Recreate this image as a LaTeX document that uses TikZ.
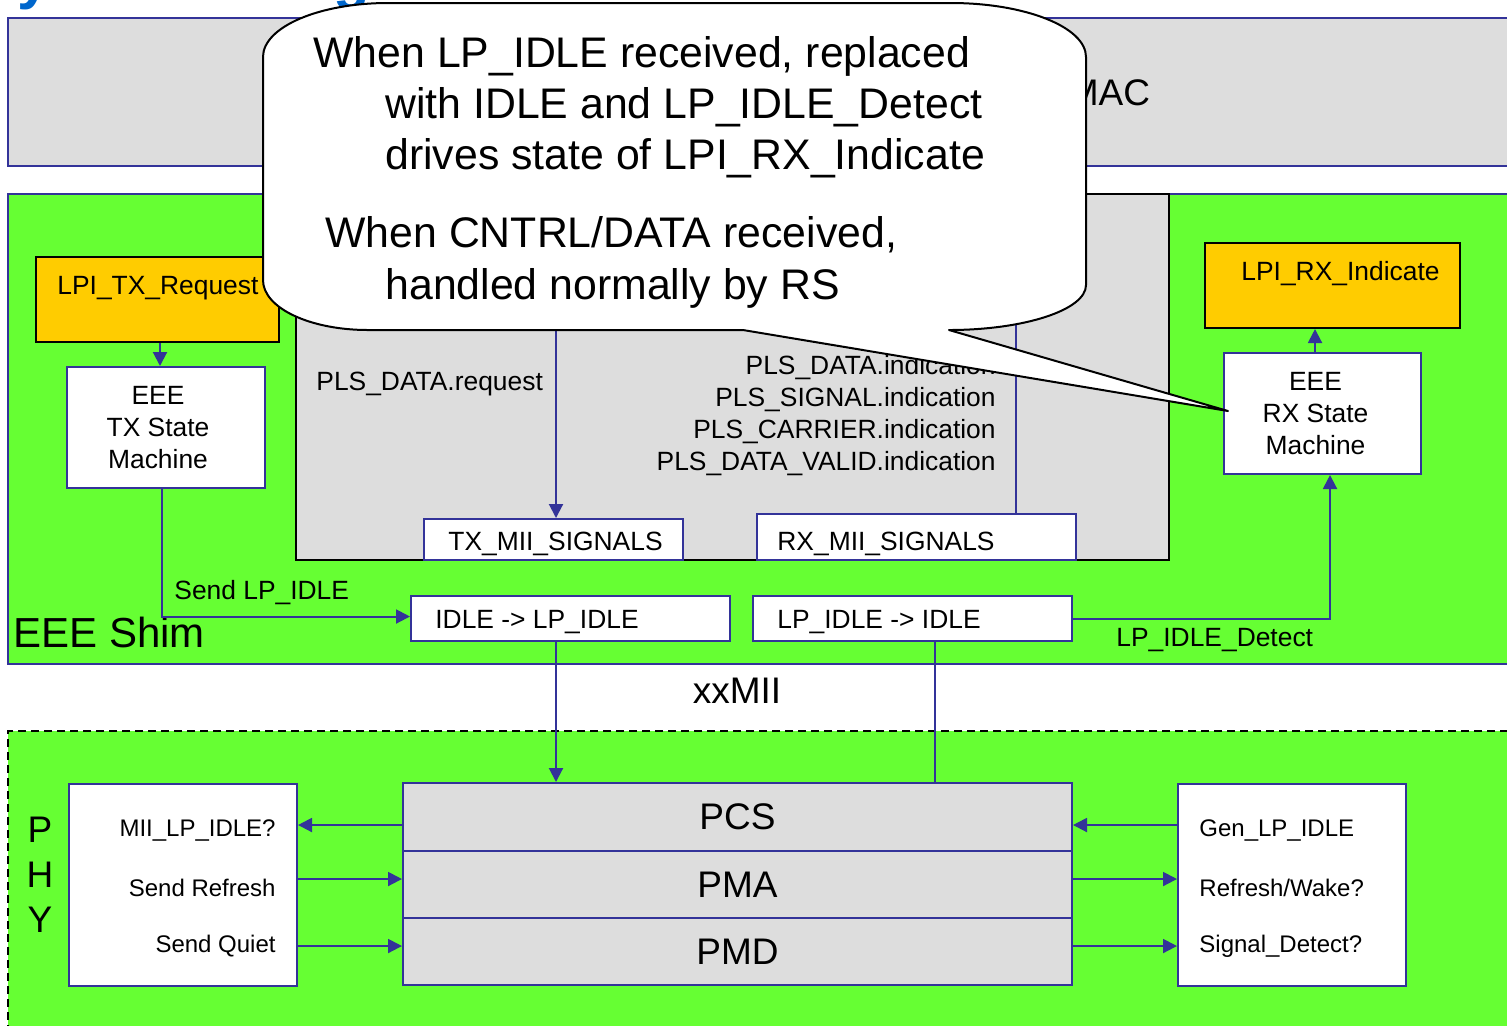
\documentclass[tikz,border=0pt]{standalone}
\usepackage{fontspec}
\setmainfont{Liberation Sans}
\usepackage{xcolor}
\usetikzlibrary{arrows.meta,fit}

\definecolor{shimgreen}{HTML}{66FF33}
\definecolor{layergray}{HTML}{DDDDDD}
\definecolor{reqorange}{HTML}{FFCC00}
\definecolor{wireblue}{HTML}{333399}
\definecolor{titleblue}{HTML}{0066CC}

\tikzset{
  layer/.style={draw=wireblue,line width=1pt,fill=layergray,inner sep=0pt},
  shim/.style={draw=wireblue,line width=1pt,fill=shimgreen,inner sep=0pt},
  sigbox/.style={draw=wireblue,line width=1pt,fill=white,inner sep=0pt},
  reqbox/.style={draw=black,line width=1pt,fill=reqorange,inner sep=0pt},
  lbl/.style={inner sep=0pt,yshift=-1.5pt,font=\fontsize{13.2}{16}\selectfont},
  smlbl/.style={inner sep=0pt,align=center,font=\fontsize{13.2}{16}\selectfont},
  plbl/.style={inner sep=0pt,yshift=-1pt,font=\fontsize{12}{14}\selectfont},
  big/.style={inner sep=0pt,font=\fontsize{18.5}{22.5}\selectfont},
  note/.style={inner sep=0pt,anchor=base west,font=\fontsize{21.4}{25.5}\selectfont},
  wire/.style={wireblue,line width=1pt},
  sig/.style={wire,-{Triangle[length=7pt,width=7pt]}},
}

\begin{document}
\begin{tikzpicture}[x=0.5pt,y=-0.5pt]
  % Ventana
  \useasboundingbox (0,0) rectangle (1507,1025);
  \clip (0,0) rectangle (1507,1025);

  % Titulo cortado arriba
  \node[inner sep=0pt,anchor=base west,text=titleblue,font=\fontsize{30}{36}\selectfont\bfseries] (ttla) at (17,-3) {y};
  \node[inner sep=0pt,anchor=base west,text=titleblue,font=\fontsize{30}{36}\selectfont\bfseries] (ttlb) at (333,-3) {g};

  % MAC
  \node[layer,fit={(8,18) (1520,166)}] (mac) {};
  \node[big] (macl) at (1109,93) {MAC};

  % EEE Shim
  \node[shim,fit={(8,194) (1520,664)}] (shim) {};
  \node[inner sep=0pt,anchor=west,font=\fontsize{21}{25}\selectfont] (shiml) at (13,632) {EEE Shim};

  % RS
  \node[fill=layergray,draw=black,line width=1.2pt,inner sep=0pt,fit={(296,194) (1169,560)}] (rs) {};
  \node[sigbox,fit={(424,519) (683,560)}] (txmii) {};
  \node[lbl,anchor=west] (txmiil) at (448,541) {TX\_MII\_SIGNALS};
  \node[sigbox,fit={(757,514) (1076,560)}] (rxmii) {};
  \node[lbl,anchor=west] (rxmiil) at (777,541) {RX\_MII\_SIGNALS};
  \coordinate (txcol) at (556,300);
  \coordinate (rxcol) at (1016,300);
  \draw[sig] (txcol) -- (txcol |- txmii.north);
  \draw[wire] (rxcol) -- (rxcol |- rxmii.north);
  \node[lbl,anchor=west] (plsreq) at (316,381) {PLS\_DATA.request};
  \node[lbl,anchor=east,align=right] (plsind) at (996,413)
    {PLS\_DATA.indication\\PLS\_SIGNAL.indication\\PLS\_CARRIER.indication\\PLS\_DATA\_VALID.indication};

  % Lado TX
  \node[reqbox,fit={(36,257) (279,342)}] (lpitx) {};
  \node[lbl,anchor=west] (lpitxl) at (57,285) {LPI\_TX\_Request};
  \node[sigbox,fit={(67,367) (265,488)}] (txsm) {};
  \node[smlbl] (txsml) at ([xshift=-4pt]txsm.center) {EEE\\TX State\\Machine};
  \coordinate (txdn) at (160,0);
  \draw[sig] (lpitx.south -| txdn) -- (txsm.north -| txdn);

  % Conversion de IDLE
  \node[sigbox,fit={(411,596) (730,641)}] (idlelp) {};
  \node[lbl,anchor=west] (idlelpl) at (435,619) {IDLE -> LP\_IDLE};
  \node[sigbox,fit={(753,596) (1072,641)}] (lpidle) {};
  \node[lbl,anchor=west] (lpidlel) at (777,619) {LP\_IDLE -> IDLE};
  \draw[sig] ([xshift=-2pt]txsm.south) |- ([yshift=1pt]idlelp.west);
  \node[lbl,anchor=west] (sendlp) at (174,590) {Send LP\_IDLE};

  % Lado RX
  \node[reqbox,fit={(1205,243) (1460,328)}] (lpirx) {};
  \node[lbl,anchor=west] (lpirxl) at (1241,271) {LPI\_RX\_Indicate};
  \node[sigbox,fit={(1224,353) (1421,474)}] (rxsm) {};
  \node[smlbl] (rxsml) at ([xshift=-3.5pt]rxsm.center) {EEE\\RX State\\Machine};
  \coordinate (rxup) at (1315,0);
  \coordinate (rxdn) at (1330,0);
  \draw[sig] (rxsm.north -| rxup) -- (lpirx.south -| rxup);
  \draw[sig] (lpidle.east) -| (rxsm.south -| rxdn);
  \node[lbl,anchor=west] (detl) at (1116,637) {LP\_IDLE\_Detect};

  % xxMII
  \node[big] (xxmii) at (737,691) {xxMII};

  % PHY
  \node[fill=shimgreen,draw=black,dash pattern=on 4pt off 2.5pt,line width=1pt,inner sep=0pt,fit={(8,731) (1520,1040)}] (phy) {};
  \node[big,align=center] (phyl) at (40,875) {P\\H\\Y};
  \node[sigbox,fit={(69,784) (297,986)}] (lbox) {};
  \node[sigbox,fit={(1178,784) (1406,986)}] (rbox) {};
  \node[layer,fit={(403,783) (1072,851)}] (pcs) {};
  \node[layer,fit={(403,851) (1072,918)}] (pma) {};
  \node[layer,fit={(403,918) (1072,985)}] (pmd) {};
  \node[big] (pcsl) at (pcs) {PCS};
  \node[big] (pmal) at (pma) {PMA};
  \node[big] (pmdl) at (pmd) {PMD};
  \draw[sig] (idlelp.south -| txcol) -- (pcs.north -| txcol);
  \coordinate (pcscol) at (935,0);
  \draw[wire] (lpidle.south -| pcscol) -- (pcs.north -| pcscol);

  \node[plbl,anchor=east] (miilp) at (276,828) {MII\_LP\_IDLE?};
  \node[plbl,anchor=east] (sendref) at (276,886) {Send Refresh};
  \node[plbl,anchor=east] (sendq) at (276,944) {Send Quiet};
  \node[plbl,anchor=west] (genlp) at (1199,828) {Gen\_LP\_IDLE};
  \node[plbl,anchor=west] (refwake) at (1199,886) {Refresh/Wake?};
  \node[plbl,anchor=west] (sigdet) at (1199,944) {Signal\_Detect?};

  \coordinate (rowa) at (0,825);
  \coordinate (rowb) at (0,879);
  \coordinate (rowc) at (0,946);
  \draw[sig] (pcs.west |- rowa) -- (lbox.east |- rowa);
  \draw[sig] (lbox.east |- rowb) -- (pma.west |- rowb);
  \draw[sig] (lbox.east |- rowc) -- (pmd.west |- rowc);
  \draw[sig] (rbox.west |- rowa) -- (pcs.east |- rowa);
  \draw[sig] (pma.east |- rowb) -- (rbox.west |- rowb);
  \draw[sig] (pmd.east |- rowc) -- (rbox.west |- rowc);

  % Globo de comentario
  \draw[fill=white,line width=1pt,line join=round]
    (388,3) -- (951,3) .. controls (1025,3) and (1086,27) .. (1086,57)
    -- (1086,285) .. controls (1086,310) and (1024,330) .. (949,330)
    -- (1228,411) -- (743,330) -- (368,330)
    .. controls (310,330) and (263,308) .. (263,280)
    -- (263,57) .. controls (263,27) and (319,3) .. (388,3) -- cycle;
  \node[note] (nota) at (313,67) {When LP\_IDLE received, replaced};
  \node[note] (notb) at (385,118) {with IDLE and LP\_IDLE\_Detect};
  \node[note] (notc) at (385,169) {drives state of LPI\_RX\_Indicate};
  \node[note] (notd) at (325,247) {When CNTRL/DATA received,};
  \node[note] (note) at (385,299) {handled normally by RS};
\end{tikzpicture}
\end{document}
